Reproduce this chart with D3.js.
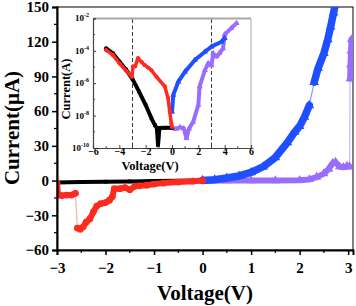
<!DOCTYPE html>
<html>
<head>
<meta charset="utf-8">
<script src="https://d3js.org/d3.v7.min.js"></script>
<style>
  body { margin: 0; background: #fff; }
  text { font-family: "Liberation Serif", "DejaVu Serif", serif; font-weight: bold; }
</style>
</head>
<body>
<script>
// main plot, current in uA
var blackMain = [[-3,-1.6],[-2.5,-1.3],[-2,-1.0],[-1.5,-0.7],[-1,-0.4],[-0.5,-0.2],[0,0]];
var redMain = [[-3,-2],[-2.98,-12.5],[-2.9,-13],[-2.8,-12.5],[-2.7,-12.5],[-2.62,-11],
  [-2.58,-41],[-2.52,-42],[-2.46,-40],[-2.4,-36],[-2.32,-33],[-2.25,-27],[-2.18,-22],
  [-2.1,-20],[-2.0,-19],[-1.92,-17],[-1.86,-14],[-1.82,-7],[-1.7,-7],[-1.6,-6],[-1.5,-8],
  [-1.4,-5],[-1.3,-4.5],[-1.15,-4],[-1.0,-3],[-0.8,-2.2],[-0.5,-1.3],[-0.2,-0.5],[0,0]];
var blueMain = [[0,0],[0.25,0.7],[0.5,2.2],[0.75,4],[1.0,7],[1.25,12],[1.5,20],[1.75,33],
  [1.9,42],[2.0,47],[2.1,55],[2.2,65],[2.3,85],[2.38,97],[2.5,110],[2.58,122],[2.64,133],
  [2.7,145],[2.74,153]];
var purpleMain = [[0,0],[0.5,0],[1,0],[1.5,0],[2.0,0.3],[2.2,1],[2.35,3],[2.5,6],[2.6,10],
  [2.68,15],[2.74,16],[2.82,12],[2.9,11.5],[2.98,12.5],[3.03,12],
  [3.04,88],[3.05,100],[3.06,112],[3.07,122],[3.08,105]];

// inset, current in A
var blackInset = [[-5,1.4e-4],[-4.5,7e-5],[-4,2.2e-5],[-3.5,7e-6],[-3,1.8e-6],[-2.5,3e-7],
  [-2,4.5e-8],[-1.56,6.8e-9],[-1.3,2.6e-9],[-1.15,1.7e-9],[-1.06,1.5e-10],[-0.95,1.7e-9],
  [-0.5,1.8e-9],[0,1.8e-9]];
var redInset = [[-5,1.1e-4],[-4.5,5.6e-5],[-4,1.7e-5],[-3.5,6e-6],[-3.05,2.5e-6],[-2.96,1.05e-5],
  [-2.8,1.1e-5],[-2.58,3.5e-5],[-2.3,2e-5],[-2.07,1.3e-5],[-1.8,9e-6],[-1.56,6.3e-6],
  [-1.18,2.5e-6],[-0.55,6.3e-7],[-0.3,1.2e-7],[-0.17,1.7e-8],[-0.05,3.3e-9],[0,2e-9]];
var blueInset = [[0,1.7e-8],[0.1,1.9e-7],[0.48,1.25e-6],[0.98,5e-6],[1.74,2.7e-5],[2.5,8.7e-5],
  [3.0,1.8e-4],[3.76,3.6e-4],[4.0,6e-4]];
var purpleInset = [[0,1.7e-9],[0.3,1.5e-9],[0.6,1.9e-9],[0.9,1.6e-9],[1.1,4e-10],[1.3,1.6e-9],
  [1.6,4e-9],[2.0,4.5e-8],[2.1,6.3e-7],[2.5,6.3e-6],[2.75,1.7e-5],[3.0,1.26e-5],[3.13,7e-5],
  [3.38,4.4e-5],[3.6,7e-5],[3.88,1.4e-4],[4.0,1e-3],[4.5,2.5e-3],[4.9,5e-3]];

var mainXTicks = [-3,-2,-1,0,1,2,3];
var mainYTicks = [-60,-30,0,30,60,90,120,150];
var insetXTicks = [-6,-4,-2,0,2,4,6];
var insetYExp = [-10,-8,-6,-4,-2];
var dashV = [-3,3];

var W = 356, H = 306;
var svg = d3.select('body').append('svg').attr('width', W).attr('height', H);

var x = d3.scaleLinear().domain([-3,3.1]).range([57,353]);
var y = d3.scaleLinear().domain([-60,150]).range([250,7]);

svg.append('clipPath').attr('id','mainClip').append('rect')
  .attr('x',57).attr('y',7).attr('width',296).attr('height',243);

// frame
svg.append('rect').attr('x',57).attr('y',7).attr('width',296).attr('height',243)
  .attr('fill','none').attr('stroke','#000').attr('stroke-width',1);

var plot = svg.append('g').attr('clip-path','url(#mainClip)');

function drawSeries(g, data, xs, ys, color, light, w, sym, size) {
  var line = d3.line().x(function(d){return xs(d[0]);}).y(function(d){return ys(d[1]);});
  g.append('path').datum(data).attr('d', line).attr('fill','none')
    .attr('stroke', light).attr('stroke-width', 1.2);
  // thick band, broken at the jumps
  var segs = [[data[0]]];
  for (var i = 1; i < data.length; i++) {
    var dy = Math.abs(ys(data[i][1]) - ys(data[i-1][1]));
    if (dy > 20) segs.push([]);
    segs[segs.length-1].push(data[i]);
  }
  segs.forEach(function(s){
    g.append('path').datum(s).attr('d', line).attr('fill','none')
      .attr('stroke', color).attr('stroke-width', w)
      .attr('stroke-linejoin','round').attr('stroke-linecap','round');
  });
  g.selectAll(null).data(data).enter().append('path')
    .attr('transform', function(d){return 'translate('+xs(d[0])+','+ys(d[1])+')';})
    .attr('d', d3.symbol().type(sym).size(size))
    .attr('fill', color);
}

var cRed = '#ff2a1f', cBlue = '#1f4fff', cPurple = '#9a6cff';

drawSeries(plot, purpleMain, x, y, cPurple, '#c9b6ff', 6, d3.symbolTriangle, 36);
drawSeries(plot, blueMain, x, y, cBlue, '#7f9cff', 7.5, d3.symbolTriangle, 40);
drawSeries(plot, blackMain, x, y, '#000', '#555', 4, d3.symbolSquare, 14);
drawSeries(plot, redMain, x, y, cRed, '#ffaaaa', 6, d3.symbolCircle, 36);

// main axes
var xAxis = svg.append('g').attr('transform','translate(0,250)')
  .call(d3.axisBottom(x).tickValues(mainXTicks).tickSize(5).tickFormat(d3.format('d')));
var yAxis = svg.append('g').attr('transform','translate(57,0)')
  .call(d3.axisLeft(y).tickValues(mainYTicks).tickSize(5).tickFormat(d3.format('d')));
[xAxis, yAxis].forEach(function(a){
  a.select('.domain').attr('stroke-width',2);
  a.selectAll('.tick line').attr('stroke-width',1.5);
  a.selectAll('text').attr('font-size',15).attr('font-family','Liberation Serif')
    .attr('font-weight','bold').attr('fill','#000');
});
xAxis.selectAll('text').attr('dy','1.0em');
yAxis.selectAll('text').attr('x',-8);
// minor ticks
svg.append('g').selectAll(null).data(d3.range(-2.5,3.1,1)).enter().append('line')
  .attr('x1',function(d){return x(d);}).attr('x2',function(d){return x(d);})
  .attr('y1',250).attr('y2',253).attr('stroke','#000').attr('stroke-width',1.2);
svg.append('g').selectAll(null).data(d3.range(-45,150,30)).enter().append('line')
  .attr('y1',function(d){return y(d);}).attr('y2',function(d){return y(d);})
  .attr('x1',57).attr('x2',54).attr('stroke','#000').attr('stroke-width',1.2);

svg.append('text').attr('x',205).attr('y',300).attr('text-anchor','middle')
  .attr('font-size',21).text('Voltage(V)');
svg.append('text').attr('transform','translate(19,128) rotate(-90)').attr('text-anchor','middle')
  .attr('font-size',21).text('Current(μA)');

// inset
var ix = d3.scaleLinear().domain([-6,6]).range([93,251]);
var iy = d3.scaleLog().domain([1e-10,1e-2]).range([148,18.4]);

var inset = svg.append('g');
inset.append('rect').attr('x',93).attr('y',18.4).attr('width',158).attr('height',129.6)
  .attr('fill','#fff');
inset.append('clipPath').attr('id','insetClip').append('rect')
  .attr('x',93).attr('y',18.4).attr('width',158).attr('height',129.6);

inset.selectAll(null).data(dashV).enter().append('line')
  .attr('x1',function(d){return ix(d);}).attr('x2',function(d){return ix(d);})
  .attr('y1',19).attr('y2',148).attr('stroke','#222').attr('stroke-width',0.9)
  .attr('stroke-dasharray','4,2.5');

var ip = inset.append('g').attr('clip-path','url(#insetClip)');
drawSeries(ip, purpleInset, ix, iy, cPurple, '#c9b6ff', 4, d3.symbolTriangle, 16);
drawSeries(ip, blueInset, ix, iy, cBlue, '#7f9cff', 4, d3.symbolTriangle, 16);
drawSeries(ip, blackInset, ix, iy, '#000', '#555', 4, d3.symbolSquare, 12);
drawSeries(ip, redInset, ix, iy, cRed, '#ffaaaa', 3.5, d3.symbolCircle, 14);

// inset frame
inset.append('line').attr('x1',93).attr('x2',251).attr('y1',18.6).attr('y2',18.6)
  .attr('stroke','#a8a8a8').attr('stroke-width',2);
inset.append('line').attr('x1',251).attr('x2',251).attr('y1',18.4).attr('y2',148)
  .attr('stroke','#a8a8a8').attr('stroke-width',1);
var ixAxis = inset.append('g').attr('transform','translate(0,148)')
  .call(d3.axisBottom(ix).tickValues(insetXTicks).tickSize(-3).tickFormat(d3.format('d')));
var iyAxis = inset.append('g').attr('transform','translate(93,0)')
  .call(d3.axisLeft(iy).tickValues(insetYExp.map(function(e){return Math.pow(10,e);}))
    .tickSize(-3).tickFormat(''));
[ixAxis, iyAxis].forEach(function(a){
  a.select('.domain').attr('stroke','#444').attr('stroke-width',1.2);
  a.selectAll('.tick line').attr('stroke','#444');
});
ixAxis.selectAll('text').attr('font-size',10).attr('font-family','Liberation Serif')
  .attr('font-weight','bold').attr('fill','#000').attr('dy','0.4em');
// inset minor ticks
inset.selectAll(null).data(d3.range(-5,6,2)).enter().append('line')
  .attr('x1',function(d){return ix(d);}).attr('x2',function(d){return ix(d);})
  .attr('y1',148).attr('y2',146).attr('stroke','#444');
inset.selectAll(null).data(d3.range(-9,-2,2)).enter().append('line')
  .attr('y1',function(d){return iy(Math.pow(10,d));}).attr('y2',function(d){return iy(Math.pow(10,d));})
  .attr('x1',93).attr('x2',95).attr('stroke','#444');
// inset y tick labels with superscript
var yl = inset.selectAll(null).data(insetYExp).enter().append('text')
  .attr('x',89).attr('y',function(d){return iy(Math.pow(10,d)) + 3;})
  .attr('text-anchor','end').attr('font-size',9);
yl.append('tspan').text('10');
yl.append('tspan').attr('dy',-4).attr('font-size',6).text(function(d){return '' + d;});

inset.append('text').attr('x',150).attr('y',170).attr('text-anchor','middle')
  .attr('font-size',12.5).text('Voltage(V)');
inset.append('text').attr('transform','translate(70,89) rotate(-90)').attr('text-anchor','middle')
  .attr('font-size',12.5).text('Current(A)');
</script>
</body>
</html>
